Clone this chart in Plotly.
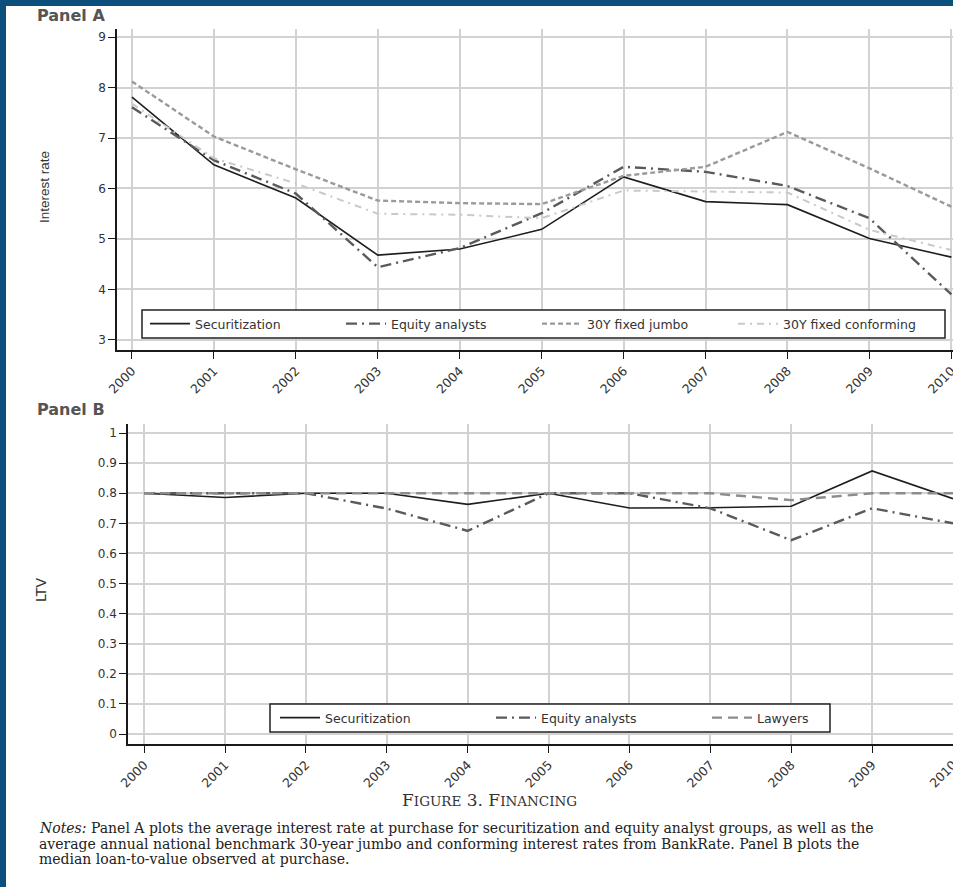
import plotly.graph_objects as go

W, H = 953, 887

years = [2000, 2001, 2002, 2003, 2004, 2005, 2006, 2007, 2008, 2009, 2010]
year_labels = [str(y) for y in years]

# Panel A: interest rate
sec_rate = [7.81, 6.47, 5.81, 4.68, 4.80, 5.19, 6.23, 5.74, 5.68, 5.01, 4.64]
eq_rate = [7.61, 6.56, 5.90, 4.44, 4.82, 5.51, 6.43, 6.33, 6.05, 5.41, 3.90]
jumbo_rate = [8.12, 7.03, 6.38, 5.76, 5.71, 5.69, 6.25, 6.43, 7.12, 6.40, 5.64]
conf_rate = [7.68, 6.60, 6.10, 5.50, 5.48, 5.41, 5.96, 5.94, 5.92, 5.18, 4.78]

# Panel B: LTV
sec_ltv = [0.80, 0.786, 0.80, 0.80, 0.763, 0.80, 0.751, 0.752, 0.757, 0.874, 0.782]
eq_ltv = [0.80, 0.80, 0.80, 0.749, 0.675, 0.80, 0.80, 0.75, 0.644, 0.75, 0.70]
law_ltv = [0.80, 0.80, 0.80, 0.80, 0.80, 0.80, 0.80, 0.80, 0.777, 0.80, 0.80]

rate_ticks = [3, 4, 5, 6, 7, 8, 9]
ltv_ticks = [0, 0.1, 0.2, 0.3, 0.4, 0.5, 0.6, 0.7, 0.8, 0.9, 1]
ltv_labels = ["0", "0.1", "0.2", "0.3", "0.4", "0.5", "0.6", "0.7", "0.8", "0.9", "1"]

SANS = "DejaVu Sans"
SERIF = "DejaVu Serif"

fig = go.Figure()

styles_a = [
    ("Securitization", sec_rate, "#1e1e1e", 1.6, "solid"),
    ("Equity analysts", eq_rate, "#5a5a5a", 2.4, "11px,5px,2px,5px"),
    ("30Y fixed jumbo", jumbo_rate, "#9a9a9a", 2.4, "5px,3px"),
    ("30Y fixed conforming", conf_rate, "#c9c9c9", 2.0, "7px,5px,2px,5px"),
]
for name, vals, col, w, dash in styles_a:
    fig.add_trace(go.Scatter(x=years, y=vals, name=name, mode="lines",
                             line=dict(color=col, width=w, dash=dash),
                             xaxis="x", yaxis="y", legend="legend"))

styles_b = [
    ("Securitization", sec_ltv, "#1e1e1e", 1.6, "solid"),
    ("Equity analysts", eq_ltv, "#5a5a5a", 2.4, "11px,5px,2px,5px"),
    ("Lawyers", law_ltv, "#8c8c8c", 2.4, "10px,6px"),
]
for name, vals, col, w, dash in styles_b:
    fig.add_trace(go.Scatter(x=years, y=vals, name=name, mode="lines",
                             line=dict(color=col, width=w, dash=dash),
                             xaxis="x2", yaxis="y2", legend="legend2"))

grid = "#d2d2d2"
axis_common = dict(showline=True, linecolor="#1a1a1a", linewidth=1.5,
                   showgrid=True, gridcolor=grid, gridwidth=1.6,
                   ticks="outside", ticklen=7, tickwidth=1.3, tickcolor="#1a1a1a",
                   zeroline=False, automargin=False,
                   tickfont=dict(family=SANS, size=12, color="#333"))
xfont = dict(family=SANS, size=12.5, color="#333")

fig.update_layout(
    width=W, height=H,
    margin=dict(l=0, r=0, t=0, b=0, autoexpand=False),
    paper_bgcolor="white", plot_bgcolor="white",
    xaxis=dict(domain=[117 / W, 1.0], range=[1999.817, 2010.02], anchor="y",
               tickvals=years, ticktext=year_labels, tickangle=-45,
               ticklabeloverflow="allow",
               **{**axis_common, "tickfont": xfont}),
    yaxis=dict(domain=[1 - 350 / H, 1 - 29 / H], range=[2.80, 9.16], anchor="x",
               tickvals=rate_ticks, **axis_common),
    xaxis2=dict(domain=[128 / W, 1.0], range=[1999.80, 2010.0], anchor="y2",
                tickvals=years, ticktext=year_labels, tickangle=-45,
                ticklabeloverflow="allow",
                **{**axis_common, "tickfont": xfont}),
    yaxis2=dict(domain=[1 - 744 / H, 1 - 424 / H], range=[-0.033, 1.03], anchor="x2",
                tickvals=ltv_ticks, ticktext=ltv_labels, **axis_common),
    legend=dict(orientation="h", x=145 / W, y=1 - 324 / H, xanchor="left", yanchor="middle",
                bgcolor="rgba(0,0,0,0)", borderwidth=0,
                font=dict(family=SANS, size=12.5, color="#333"),
                itemwidth=40, entrywidth=141, tracegroupgap=0),
    legend2=dict(orientation="h", x=275 / W, y=1 - 718 / H, xanchor="left", yanchor="middle",
                 bgcolor="rgba(0,0,0,0)", borderwidth=0,
                 font=dict(family=SANS, size=12.5, color="#333"),
                 itemwidth=40, entrywidth=161, tracegroupgap=0),
    showlegend=True,
)

ann = [
    dict(text="Panel A", x=35 / W, y=1 - 16 / H, xanchor="left", yanchor="middle",
         font=dict(family=SANS, size=16, color="#555", weight="bold")),
    dict(text="Panel B", x=35 / W, y=1 - 409 / H, xanchor="left", yanchor="middle",
         font=dict(family=SANS, size=16, color="#555", weight="bold")),
    dict(text="Interest rate", x=45 / W, y=1 - 187 / H, xanchor="center", yanchor="middle",
         textangle=-90, font=dict(family="Liberation Sans Narrow, Liberation Sans", size=13.5, color="#333")),
    dict(text="LTV", x=41 / W, y=1 - 590 / H, xanchor="center", yanchor="middle",
         textangle=-90, font=dict(family=SANS, size=14, color="#333")),
    dict(text="F<span style='font-size:13.5px'>IGURE</span> 3. F<span style='font-size:13.5px'>INANCING</span>",
         x=489 / W, y=1 - 800 / H, xanchor="center", yanchor="middle",
         font=dict(family=SERIF, size=17, color="#333")),
    dict(text="<i>Notes:</i> Panel A plots the average interest rate at purchase for securitization and equity analyst groups, as well as the",
         x=37 / W, y=1 - 828 / H, xanchor="left", yanchor="middle",
         font=dict(family=SERIF, size=14, color="#222")),
    dict(text="average annual national benchmark 30-year jumbo and conforming interest rates from BankRate. Panel B plots the",
         x=37 / W, y=1 - 843.5 / H, xanchor="left", yanchor="middle",
         font=dict(family=SERIF, size=14, color="#222")),
    dict(text="median loan-to-value observed at purchase.",
         x=37 / W, y=1 - 859 / H, xanchor="left", yanchor="middle",
         font=dict(family=SERIF, size=14, color="#222")),
]
for a in ann:
    a.update(xref="paper", yref="paper", showarrow=False)
fig.update_layout(annotations=ann)

border = "#0c4f7d"
fig.update_layout(shapes=[
    # legend frames
    dict(type="rect", xref="paper", yref="paper", x0=142 / W, x1=945 / W,
         y0=1 - 338 / H, y1=1 - 310 / H, fillcolor="white",
         line=dict(color="#222", width=1.5), layer="above"),
    dict(type="rect", xref="paper", yref="paper", x0=270 / W, x1=830 / W,
         y0=1 - 732 / H, y1=1 - 704 / H, fillcolor="white",
         line=dict(color="#222", width=1.5), layer="above"),
    # page border bands
    dict(type="rect", xref="paper", yref="paper", x0=-0.01, x1=1.01, y0=1 - 6 / H, y1=1.02,
         fillcolor=border, line=dict(width=0), layer="above"),
    dict(type="rect", xref="paper", yref="paper", x0=-0.01, x1=6 / W, y0=-0.02, y1=1.02,
         fillcolor=border, line=dict(width=0), layer="above"),
])

fig.write_html("out.html", config={"displayModeBar": False},
               post_script="document.body.style.margin='0';document.body.style.overflow='hidden';")
